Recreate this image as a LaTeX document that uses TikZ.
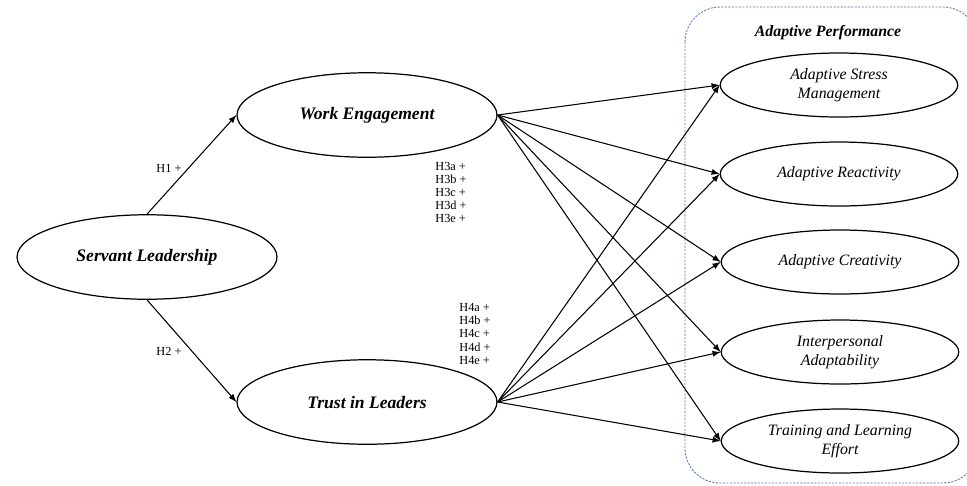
\documentclass[tikz,border=0pt]{standalone}
\usepackage{fontspec}
\setmainfont{Liberation Serif}
\usetikzlibrary{shapes.geometric}
\definecolor{boxblue}{RGB}{85,120,190}

\begin{document}
\begin{tikzpicture}[x=0.02cm, y=-0.02cm, >=latex,
    construct/.style={ellipse, draw, line width=0.7pt, inner sep=0pt,
        minimum width=5.2cm, minimum height=1.69cm, font=\fontsize{10}{12}\selectfont\bfseries\itshape},
    facet/.style={ellipse, draw, line width=0.7pt, inner sep=0pt, align=center,
        minimum width=4.75cm, minimum height=1.28cm, font=\fontsize{9}{10.5}\selectfont\itshape},
    hyp/.style={font=\fontsize{7}{7.4}\selectfont, align=left, inner sep=0pt},
    path/.style={->, line width=0.6pt}]
    \useasboundingbox (0,0) rectangle (967,485);
    % outcome group
    \begin{scope}
        \clip (0,0) rectangle (967,485);
        \draw[boxblue, dash pattern=on 1.2pt off 0.8pt, line width=0.5pt, rounded corners=0.7cm] (685,7) rectangle (978,483);
    \end{scope}
    \node[font=\fontsize{9}{10}\selectfont\bfseries\itshape] (ap) at (828,33) {Adaptive Performance};
    % latent constructs
    \node[construct] (sl) at (147,257) {Servant Leadership};
    \node[construct] (we) at (367,115) {Work Engagement};
    \node[construct] (tl) at (367,402) {Trust in Leaders};
    \node[facet] (f1) at (839,85) {Adaptive Stress\\Management};
    \node[facet] (f2) at (839,174) {Adaptive Reactivity};
    \node[facet] (f3) at (840,262) {Adaptive Creativity};
    \node[facet] (f4) at (840,352) {Interpersonal\\Adaptability};
    \node[facet] (f5) at (840,441) {Training and Learning\\Effort};
    % paths
    \draw[path] (sl.north) -- (we.west);
    \draw[path] (sl.south) -- (tl.west);
    \foreach \f in {f1,f2,f3,f4,f5} {
        \draw[path] (we.east) -- (\f.west);
        \draw[path] (tl.east) -- (\f.west);
    }
    % hypothesis labels
    \node[hyp] (h1) at (169,168) {H1 +};
    \node[hyp] (h2) at (169,351) {H2 +};
    \node[hyp] (h3) at (451,192) {H3a +\\H3b +\\H3c +\\H3d +\\H3e +};
    \node[hyp] (h4) at (475,334) {H4a +\\H4b +\\H4c +\\H4d +\\H4e +};
\end{tikzpicture}
\end{document}
